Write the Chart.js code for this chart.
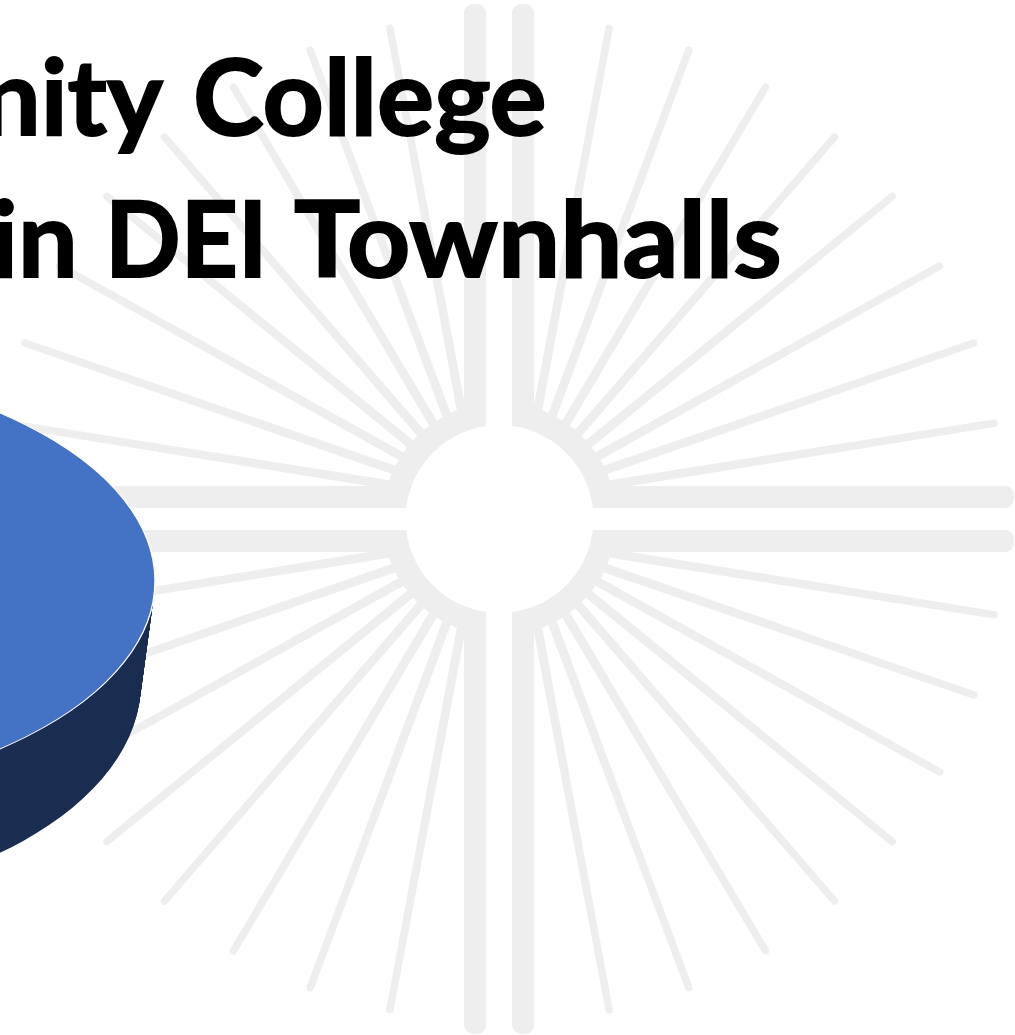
<!DOCTYPE html>
<html>
<head>
<meta charset="utf-8">
<script src="https://cdn.jsdelivr.net/npm/chart.js@4"></script>
<style>
    html, body { margin: 0; padding: 0; width: 1015px; height: 1035px; overflow: hidden; background: #fff; }
    #chart { position: absolute; left: 0; top: 0; }
    .word { position: absolute; font: 700 106px Lato, sans-serif; color: #000; white-space: nowrap; line-height: 1;
            -webkit-text-stroke: 2px #000; transform-origin: 0 0; }
</style>
</head>
<body>
<canvas id="chart" width="1015" height="1035"></canvas>
<script>
const categories = ['Participated'];
const participation = [100];

// each title word with its inked span on the page; no start means it runs off the left edge
const titleWords = [
    { text: 'nity', end: 163, top: 41 },
    { text: 'College', start: 197, end: 544, top: 41 },
    { text: 'in', end: 72, top: 183 },
    { text: 'DEI', start: 113, end: 260, top: 183 },
    { text: 'Townhalls', start: 295, end: 779, top: 183 }
];

// angle of each backdrop ray, degrees away from the vertical bars
const rayAngles = [10.6, 20.5, 30.7, 40.9, 50.8, 60.9, 71, 80.9];

const RAY_GREY = '#eeeeee';
const HUB = { x: 499.5, y: 519, r: 94, ring: 117 };
// rays of a quadrant fan out from a point beside the hub
const FAN = { dx: 21.5, dy: 20, reach: 479 };

// top face and base of the disc, as ellipses on the page
const TOP_FACE = { x: -283, y: 581, a: 438, b: 220 };
const BASE = { x: -264, y: 683, a: 405, b: 224 };

function drawRay(ctx, ox, oy, deg) {
    const tip = 3.7, root = 4.6;
    ctx.save();
    ctx.translate(ox, oy);
    ctx.rotate(deg * Math.PI / 180);
    ctx.beginPath();
    ctx.moveTo(-root, -60);
    ctx.lineTo(-tip, -FAN.reach);
    ctx.arc(0, -FAN.reach, tip, Math.PI, 0);
    ctx.lineTo(root, -60);
    ctx.closePath();
    ctx.fill();
    ctx.restore();
}

const backdrop = {
    id: 'backdrop',
    beforeDraw(chart) {
        const ctx = chart.ctx;
        ctx.save();
        ctx.fillStyle = '#fff';
        ctx.fillRect(0, 0, chart.width, chart.height);
        ctx.fillStyle = RAY_GREY;
        rayAngles.forEach(a => {
            drawRay(ctx, HUB.x + FAN.dx, HUB.y - FAN.dy, a);
            drawRay(ctx, HUB.x - FAN.dx, HUB.y - FAN.dy, -a);
            drawRay(ctx, HUB.x + FAN.dx, HUB.y + FAN.dy, 180 - a);
            drawRay(ctx, HUB.x - FAN.dx, HUB.y + FAN.dy, 180 + a);
        });

        ctx.beginPath();
        ctx.arc(HUB.x, HUB.y, HUB.ring, 0, Math.PI * 2);
        ctx.fill();

        // the double cross
        ctx.beginPath();
        ctx.roundRect(464, 4, 22, 1030, 9);
        ctx.roundRect(512, 4, 22, 1030, 9);
        ctx.roundRect(-20, 486, 1034, 22, 9);
        ctx.roundRect(-20, 530, 1034, 22, 9);
        ctx.fill();

        // white hub and the channels between the bars
        ctx.fillStyle = '#fff';
        ctx.beginPath();
        ctx.arc(HUB.x, HUB.y, HUB.r, 0, Math.PI * 2);
        ctx.fill();
        ctx.fillRect(486, 0, 26, chart.height);
        ctx.fillRect(0, 508, chart.width, 22);
        ctx.restore();
    }
};

function placeArc(ctx, arc, e) {
    const k = 1 / arc.outerRadius;
    ctx.translate(e.x, e.y);
    ctx.scale(e.a * k, e.b * k);
    ctx.translate(-arc.x, -arc.y);
}

// squashes the pie into a tilted disc and builds its side wall under it
const tilt = {
    id: 'tilt',
    beforeDatasetDraw(chart, args) {
        const ctx = chart.ctx;
        const arc = args.meta.data[0];
        const real = arc.options;
        const steps = 60;
        arc.options = Object.create(real, {
            backgroundColor: { value: '#1b2e52' },
            borderWidth: { value: 0 }
        });
        for (let i = steps; i > 0; i--) {
            const t = i / steps;
            const e = {};
            ['x', 'y', 'a', 'b'].forEach(p => { e[p] = TOP_FACE[p] + (BASE[p] - TOP_FACE[p]) * t; });
            ctx.save();
            placeArc(ctx, arc, e);
            arc.draw(ctx);
            ctx.restore();
        }
        arc.options = real;
        ctx.save();
        placeArc(ctx, arc, TOP_FACE);
    },
    afterDatasetDraw(chart) {
        chart.ctx.restore();
    }
};

new Chart(document.getElementById('chart'), {
    type: 'pie',
    data: {
        labels: categories,
        datasets: [{
            data: participation,
            backgroundColor: ['#4472c4'],
            borderColor: '#ffffff',
            borderWidth: 1.6,
            clip: false
        }]
    },
    options: {
        responsive: false,
        animation: false,
        layout: { padding: 0 },
        plugins: { legend: { display: false }, tooltip: { enabled: false }, title: { display: false } }
    },
    plugins: [backdrop, tilt]
});

// place the title word by word, fitting each to its span
const measure = document.createElement('canvas').getContext('2d');
measure.font = '700 106px Lato, sans-serif';
titleWords.forEach(w => {
    const m = measure.measureText(w.text);
    const inkLeft = -m.actualBoundingBoxLeft;
    const inkRight = m.actualBoundingBoxRight;
    const sx = w.start === undefined ? 1 : (w.end - w.start) / (inkRight - inkLeft);
    const el = document.createElement('div');
    el.className = 'word';
    el.textContent = w.text;
    el.style.left = (w.end - inkRight * sx) + 'px';
    el.style.top = w.top + 'px';
    el.style.transform = 'scaleX(' + sx + ')';
    document.body.appendChild(el);
});
</script>
</body>
</html>
